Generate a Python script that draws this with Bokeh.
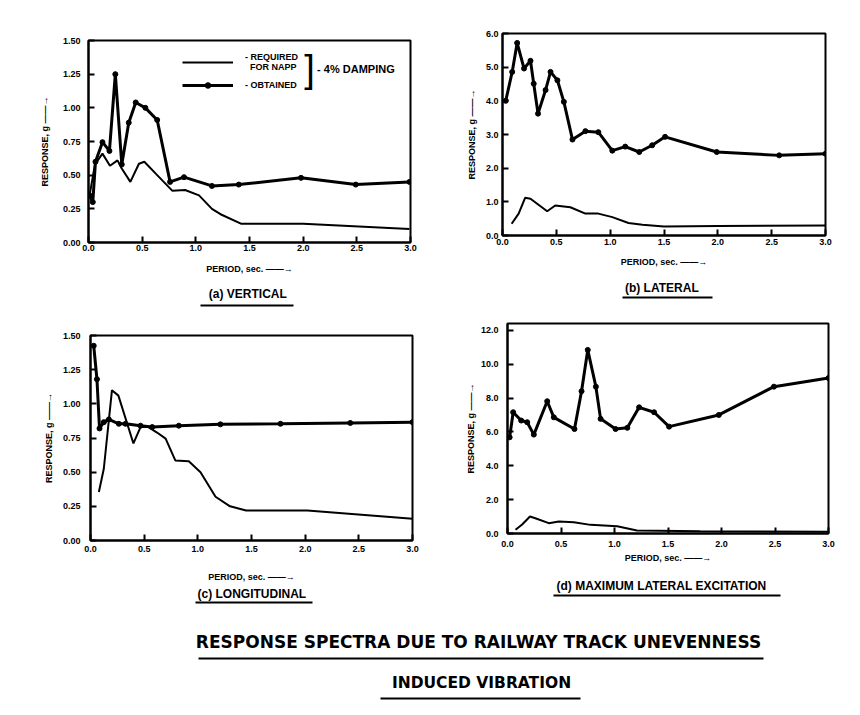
from bokeh.plotting import figure
from bokeh.layouts import column, row
from bokeh.models import Range1d, FixedTicker, PrintfTickFormatter, Legend, LegendItem, Label
from bokeh.embed import file_html
from bokeh.resources import INLINE
from bokeh.core.properties import value

# ---------------- data ----------------
X_TICKS = [0.0, 0.5, 1.0, 1.5, 2.0, 2.5, 3.0]
Y_TICKS_A = [0.0, 0.25, 0.5, 0.75, 1.0, 1.25, 1.5]
Y_TICKS_B = [0.0, 1.0, 2.0, 3.0, 4.0, 5.0, 6.0]
Y_TICKS_C = [0.0, 0.25, 0.5, 0.75, 1.0, 1.25, 1.5]
Y_TICKS_D = [0.0, 2.0, 4.0, 6.0, 8.0, 10.0, 12.0]

# (a) vertical
a_req_x = [0.01, 0.06, 0.13, 0.20, 0.27, 0.31, 0.39, 0.47, 0.52, 0.64, 0.78, 0.90, 1.03, 1.15, 1.23, 1.42, 2.00, 2.99]
a_req_y = [0.35, 0.58, 0.66, 0.57, 0.61, 0.55, 0.45, 0.585, 0.60, 0.50, 0.385, 0.39, 0.35, 0.25, 0.21, 0.14, 0.14, 0.10]
a_obt_x = [0.01, 0.04, 0.065, 0.13, 0.195, 0.25, 0.31, 0.375, 0.44, 0.53, 0.64, 0.76, 0.89, 1.15, 1.40, 1.98, 2.49, 2.99]
a_obt_y = [0.35, 0.30, 0.60, 0.745, 0.68, 1.25, 0.58, 0.89, 1.04, 1.00, 0.91, 0.45, 0.485, 0.42, 0.43, 0.48, 0.43, 0.45]

# (b) lateral
b_req_x = [0.085, 0.15, 0.21, 0.26, 0.415, 0.49, 0.63, 0.77, 0.89, 1.02, 1.17, 1.30, 1.50, 2.00, 3.00]
b_req_y = [0.35, 0.65, 1.12, 1.09, 0.72, 0.89, 0.84, 0.65, 0.65, 0.545, 0.37, 0.32, 0.27, 0.28, 0.30]
b_obt_x = [0.03, 0.09, 0.136, 0.20, 0.26, 0.29, 0.33, 0.40, 0.446, 0.51, 0.57, 0.65, 0.77, 0.89, 1.02, 1.14, 1.27, 1.39, 1.51, 1.99, 2.57, 3.00]
b_obt_y = [4.0, 4.86, 5.72, 4.96, 5.19, 4.51, 3.62, 4.32, 4.86, 4.61, 3.97, 2.85, 3.10, 3.07, 2.52, 2.64, 2.48, 2.68, 2.93, 2.48, 2.38, 2.43]

# (c) longitudinal
c_req_x = [0.078, 0.124, 0.20, 0.26, 0.40, 0.466, 0.54, 0.62, 0.70, 0.79, 0.916, 1.025, 1.165, 1.30, 1.45, 2.02, 3.00]
c_req_y = [0.355, 0.525, 1.10, 1.06, 0.71, 0.83, 0.83, 0.79, 0.745, 0.586, 0.58, 0.50, 0.32, 0.25, 0.22, 0.22, 0.16]
c_obt_x = [0.03, 0.06, 0.084, 0.124, 0.171, 0.264, 0.326, 0.466, 0.575, 0.823, 1.21, 1.77, 2.42, 3.00]
c_obt_y = [1.425, 1.18, 0.82, 0.866, 0.886, 0.854, 0.854, 0.84, 0.83, 0.84, 0.85, 0.854, 0.86, 0.866]

# (d) maximum lateral excitation
d_req_x = [0.075, 0.137, 0.21, 0.26, 0.386, 0.48, 0.62, 0.776, 1.025, 1.21, 1.80, 3.00]
d_req_y = [0.22, 0.53, 1.00, 0.90, 0.61, 0.71, 0.67, 0.51, 0.43, 0.18, 0.14, 0.10]
d_obt_x = [0.02, 0.053, 0.128, 0.184, 0.246, 0.371, 0.433, 0.626, 0.692, 0.75, 0.826, 0.87, 1.01, 1.12, 1.23, 1.37, 1.51, 1.975, 2.49, 3.00]
d_obt_y = [5.68, 7.16, 6.67, 6.57, 5.84, 7.81, 6.86, 6.17, 8.40, 10.84, 8.67, 6.77, 6.17, 6.24, 7.45, 7.16, 6.31, 7.00, 8.67, 9.18]

X_LABEL = "PERIOD, sec. \u2014\u2014\u2192"
Y_LABEL = "RESPONSE, g \u2014\u2014\u2192"
LEG_REQ = "- REQUIRED\n  FOR NAPP"
LEG_OBT = "- OBTAINED"
LEG_DAMP = "- 4% DAMPING"
CAPTIONS = ["(a)  VERTICAL", "(b)  LATERAL", "(c)  LONGITUDINAL", "(d)  MAXIMUM  LATERAL  EXCITATION"]
TITLE1 = "RESPONSE SPECTRA DUE TO RAILWAY TRACK UNEVENNESS"
TITLE2 = "INDUCED VIBRATION"

FONT = "Liberation Sans"
TFONT = "DejaVu Sans"
INK = "black"


def panel(w, h, bl, br, bt, bb, ymax, yticks, yfmt, xreq, yreq, xobt, yobt,
          xstd, xlstd, ystd, ylstd):
    p = figure(width=w, height=h, x_range=Range1d(0, 3.0), y_range=Range1d(0, ymax),
               toolbar_location=None, output_backend="svg",
               min_border_left=bl, min_border_right=br, min_border_top=bt, min_border_bottom=bb,
               x_axis_label=X_LABEL, y_axis_label=Y_LABEL)
    p.grid.visible = False
    p.outline_line_color = INK
    p.outline_line_width = 2
    p.xaxis.ticker = FixedTicker(ticks=X_TICKS)
    p.xaxis.formatter = PrintfTickFormatter(format="%.1f")
    p.yaxis.ticker = FixedTicker(ticks=yticks)
    p.yaxis.formatter = PrintfTickFormatter(format=yfmt)
    for ax in p.axis:
        ax.axis_line_width = 2
        ax.axis_line_color = INK
        ax.major_tick_line_width = 2
        ax.major_tick_line_color = INK
        ax.major_tick_in = 6
        ax.major_tick_out = 0
        ax.minor_tick_line_color = None
        ax.major_label_text_font = FONT
        ax.major_label_text_font_size = "9px"
        ax.major_label_text_font_style = "bold"
        ax.major_label_text_color = INK
        ax.axis_label_text_font = FONT
        ax.axis_label_text_font_size = "9px"
        ax.axis_label_text_font_style = "bold"
        ax.axis_label_text_color = INK
    p.xaxis.major_label_standoff = xstd
    p.xaxis.axis_label_standoff = xlstd
    p.yaxis.major_label_standoff = ystd
    p.yaxis.axis_label_standoff = ylstd
    r_req = p.line(xreq, yreq, line_color=INK, line_width=2)
    r_obt = p.line(xobt, yobt, line_color=INK, line_width=3)
    r_pts = p.scatter(xobt, yobt, size=5, color=INK)
    return p, r_req, r_obt, r_pts


def caption(w, h, bl, br, text, cx, cy, ux0, ux1, uy, size="12px", font=FONT):
    # frame coincides with the panel's frame; x in pixels from the figure's left edge
    c = figure(width=w, height=h, x_range=Range1d(bl, w - br), y_range=Range1d(0, h),
               toolbar_location=None, output_backend="svg",
               min_border_left=bl, min_border_right=br, min_border_top=0, min_border_bottom=0)
    c.axis.visible = False
    c.grid.visible = False
    c.outline_line_color = None
    c.add_layout(Label(x=cx, y=cy, text=text, text_font=font, text_font_size=size,
                       text_font_style="bold", text_align="center", text_baseline="middle",
                       text_color=INK))
    c.segment(x0=[ux0], y0=[uy], x1=[ux1], y1=[uy], line_color=INK, line_width=2)
    return c


fa, ra_req, ra_obt, ra_pts = panel(422, 280, 88, 12, 40, 38, 1.5, Y_TICKS_A, "%.2f",
                                   a_req_x, a_req_y, a_obt_x, a_obt_y, 2, 10, 8, 10)
legend = Legend(items=[LegendItem(label=LEG_REQ, renderers=[ra_req]),
                       LegendItem(label=LEG_OBT, renderers=[ra_obt, ra_pts])],
                location=(94, 150), background_fill_alpha=0, border_line_alpha=0,
                label_text_font=FONT, label_text_font_size="9px", label_text_font_style="bold",
                label_text_color=INK,
                glyph_width=51, glyph_height=14, label_standoff=12, padding=0, margin=0, spacing=6)
fa.add_layout(legend)
fa.add_layout(Label(x=2.06, y=1.29, text="]", text_font=FONT, text_font_size="38px",
                    text_baseline="middle", text_align="center", text_color=INK))
fa.add_layout(Label(x=2.13, y=1.29, text=LEG_DAMP, text_font=FONT, text_font_size="11px",
                    text_font_style="bold", text_baseline="middle", text_color=INK))

fb, *_ = panel(418, 272, 80, 15, 33, 37, 6.0, Y_TICKS_B, "%.1f",
               b_req_x, b_req_y, b_obt_x, b_obt_y, 3, 9, 4, 6)
fc, *_ = panel(424, 275, 90, 12, 25, 45, 1.5, Y_TICKS_C, "%.2f",
               c_req_x, c_req_y, c_obt_x, c_obt_y, 5, 17, 10, 6)
fd, *_ = panel(416, 255, 83, 12, 13, 32, 12.4, Y_TICKS_D, "%.1f",
               d_req_x, d_req_y, d_obt_x, d_obt_y, 7, 3, 9, 2)

ca = caption(422, 30, 88, 12, CAPTIONS[0], 249, 17, 200, 293, 5)
cb = caption(418, 38, 80, 15, CAPTIONS[1], 241, 23, 200, 290, 13)
cc = caption(424, 25, 90, 12, CAPTIONS[2], 253, 17, 195, 312, 8)
cd = caption(416, 45, 83, 12, CAPTIONS[3], 242, 25, 129, 356, 15)

ft = figure(width=840, height=95, x_range=Range1d(0, 840), y_range=Range1d(0, 95),
            toolbar_location=None, output_backend="svg",
            min_border_left=0, min_border_right=0, min_border_top=0, min_border_bottom=0)
ft.axis.visible = False
ft.grid.visible = False
ft.outline_line_color = None
ft.add_layout(Label(x=478, y=64, text=TITLE1, text_font=TFONT, text_font_size="17px",
                    text_font_style="bold", text_align="center", text_baseline="middle",
                    text_color=INK))
ft.add_layout(Label(x=481, y=23, text=TITLE2, text_font=TFONT, text_font_size="15.5px",
                    text_font_style="bold", text_align="center", text_baseline="middle",
                    text_color=INK))
ft.segment(x0=[198, 380], y0=[47, 7], x1=[763, 580], y1=[47, 7], line_color=INK, line_width=2)

layout = column(row(column(fa, ca), column(fb, cb)),
                row(column(fc, cc), column(fd, cd)),
                ft)

open("out.html", "w").write(file_html(layout, INLINE))
